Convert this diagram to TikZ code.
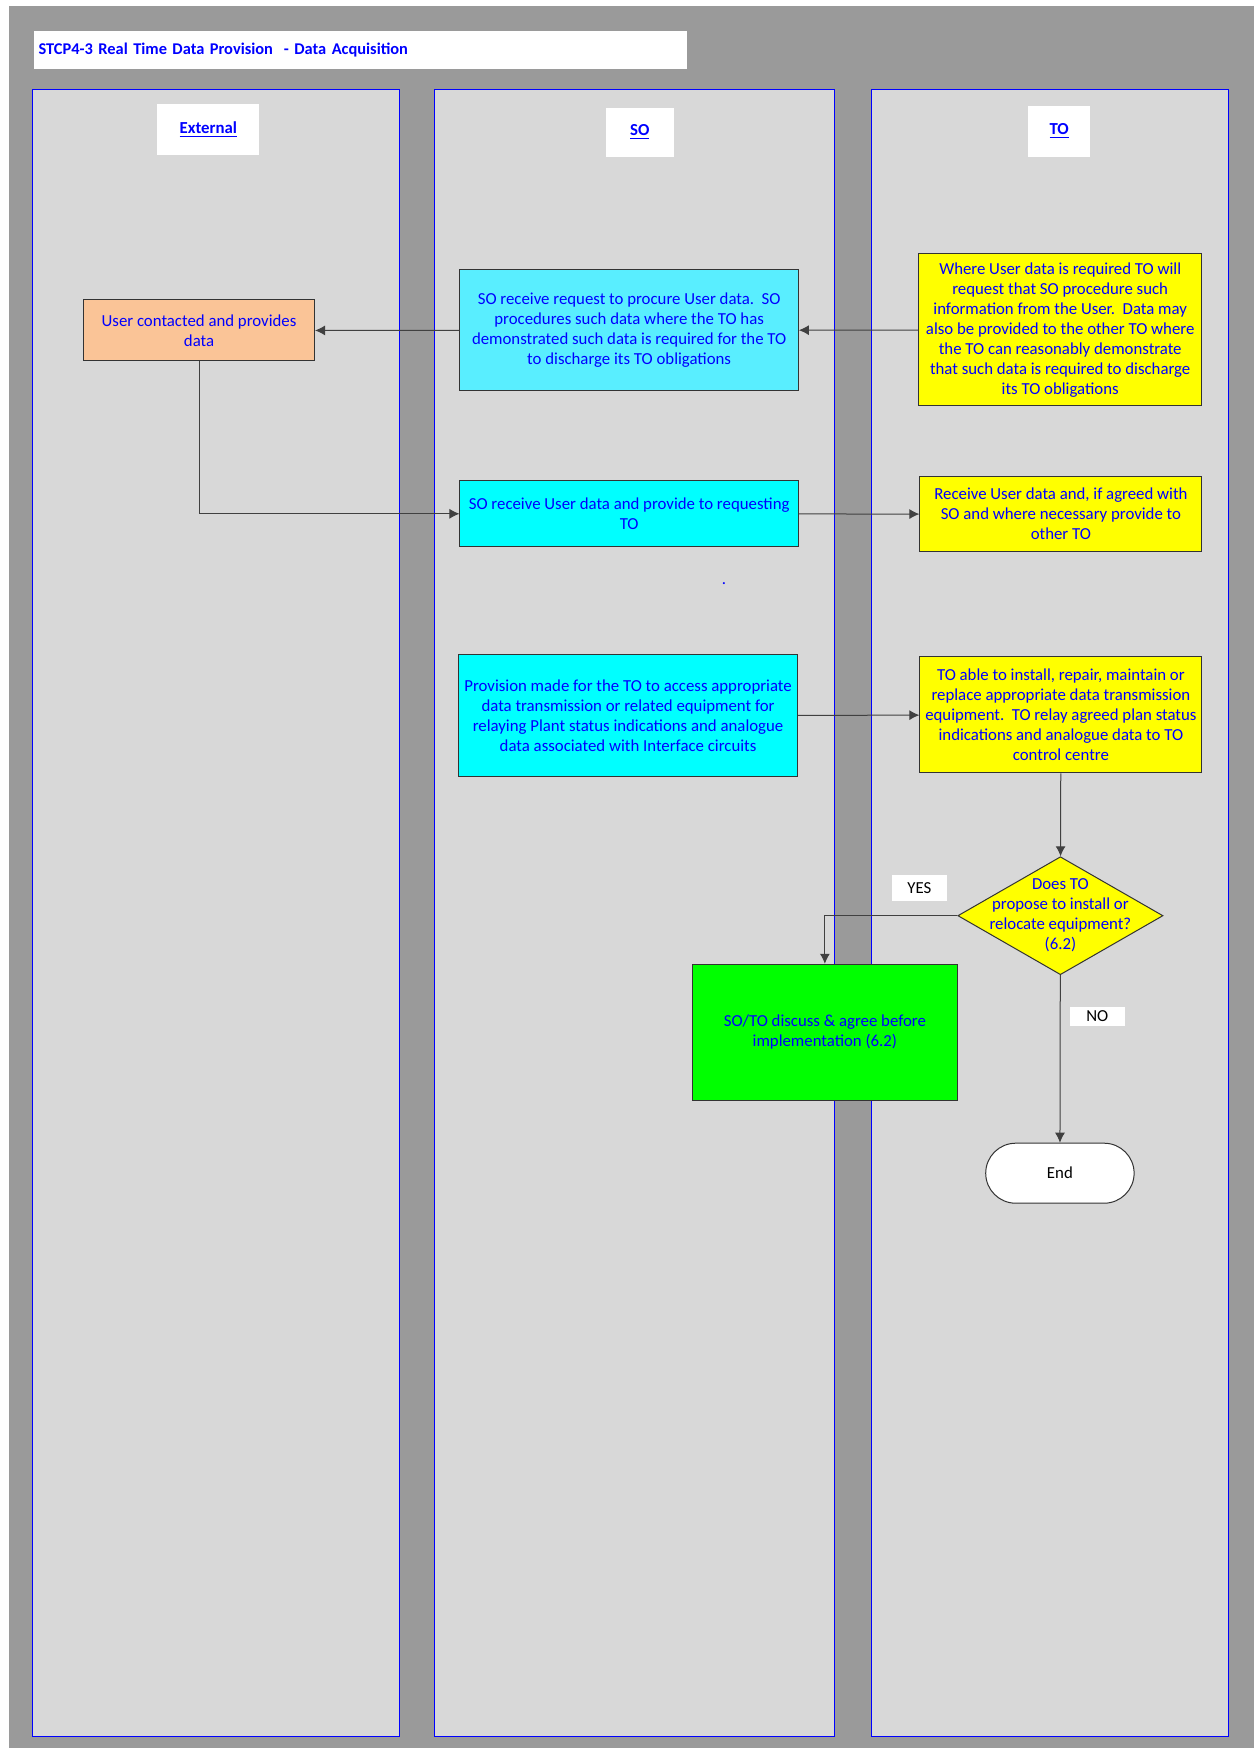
\documentclass[tikz,border=0pt]{standalone}
\usepackage{fontspec}
\setmainfont{Carlito}
\usetikzlibrary{arrows.meta, shapes.geometric}
\definecolor{bggray}{HTML}{9A9A9A}
\definecolor{lanegray}{HTML}{D8D8D8}
\definecolor{peach}{HTML}{FAC497}
\definecolor{lightcyan}{HTML}{59EEFF}
\definecolor{aqua}{HTML}{00FFFF}
\definecolor{lime}{HTML}{00FF00}
\definecolor{lemon}{HTML}{FFFF00}
\definecolor{txtblue}{HTML}{0000FF}

\begin{document}
\begin{tikzpicture}
  [x=0.4983pt,y=-0.5pt,
   every node/.style={font=\fontsize{8.4}{10}\selectfont,text=txtblue,align=center,inner sep=0pt},
   lane/.style={draw=blue,fill=lanegray,line width=0.4pt},
   head/.style={fill=white,font=\fontsize{8.4}{10}\selectfont\bfseries},
   box/.style={draw=black!80,line width=0.5pt},
   decision/.style={diamond,draw=black!80,fill=lemon,line width=0.5pt},
   tag/.style={fill=white,text=black},
   flow/.style={draw=black!75,line width=0.5pt,-{Latex[length=5pt,width=5pt]}}]

  \useasboundingbox (0,0) rectangle (1258.3,1748);
  \fill[bggray] (9,6) rectangle (1258.3,1748);
  \draw[lane] (32.5,89) rectangle (400.5,1736);
  \draw[lane] (436,89) rectangle (837.5,1736);
  \draw[lane] (874,89) rectangle (1233,1736);

  \node[fill=white,anchor=west,text width=322pt,minimum height=19pt,inner xsep=2.4pt,
        align=left,font=\fontsize{8.2}{10}\selectfont\bfseries] (title) at (33.5,50)
        {STCP4-3 Real Time Data Provision \ - Data Acquisition};

  \node[head,minimum width=51pt,minimum height=25.5pt] (ext) at (209,129.5) {\underline{External}};
  \node[head,minimum width=34pt,minimum height=24.5pt] (so) at (642,132.5) {\underline{SO}};
  \node[head,minimum width=31.2pt,minimum height=25.35pt] (to) at (1062.75,131.3)
    {\raisebox{2.5pt}{\underline{TO}}};

  \node[box,fill=peach,minimum width=115.5pt,minimum height=30.5pt] (user) at (199.7,330.5)
    {User contacted and provides\\data};
  \node[box,fill=lightcyan,minimum width=169.2pt,minimum height=60.35pt] (req) at (631.3,330.3)
    {SO receive request to procure User data.\ \ SO\\procedures such data where the TO has\\
     demonstrated such data is required for the TO\\to discharge its TO obligations};
  \node[box,fill=lemon,minimum width=141.7pt,minimum height=76pt] (need) at (1063.8,330)
    {Where User data is required TO will\\request that SO procedure such\\
     information from the User.\ \ Data may\\also be provided to the other TO where\\
     the TO can reasonably demonstrate\\that such data is required to discharge\\its TO obligations};
  \node[box,fill=aqua,minimum width=169.2pt,minimum height=32.85pt] (pass) at (631.3,513.8)
    {SO receive User data and provide to requesting\\TO};
  \node[box,fill=lemon,minimum width=141pt,minimum height=37.5pt] (recv) at (1064.5,514.2)
    {Receive User data and, if agreed with\\SO and where necessary provide to\\other TO};
  \node[anchor=base] (dot) at (726.5,584) {.};
  \node[box,fill=aqua,minimum width=169.6pt,minimum height=60.85pt] (prov) at (630.2,715.8)
    {Provision made for the TO to access appropriate\\data transmission or related equipment for\\
     relaying Plant status indications and analogue\\data associated with Interface circuits};
  \node[box,fill=lemon,minimum width=141pt,minimum height=58.15pt] (inst) at (1064.5,714.8)
    {TO able to install, repair, maintain or\\replace appropriate data transmission\\
     equipment.\ \ TO relay agreed plan status\\indications and analogue data to TO\\control centre};
  \node[decision,minimum width=102.6pt,minimum height=59pt] (dec) at (1064,915.7) {};
  \node (dectxt) at (dec) {Does TO\\propose to install or\\relocate equipment?\\(6.2)};
  \node[box,fill=lime,minimum width=132.2pt,minimum height=68pt] (agree) at (827.65,1032.3)
    {SO/TO discuss \& agree before\\implementation (6.2)};
  \node[box,fill=white,text=black,rounded corners=15pt,minimum width=74.2pt,minimum height=30pt]
    (fin) at (1063.5,1173.2) {End};
  \node[tag,minimum width=27.4pt,minimum height=12.85pt] (yes) at (922.5,887.9) {YES};
  \node[tag,minimum width=27.4pt,minimum height=9.35pt] (no) at (1101,1016.4) {NO};

  \foreach \from/\to in {need/req,req/user,pass/recv,prov/inst,inst/dec,dec/fin}
    \draw[flow] (\from) -- (\to);
  \draw[flow] (user) |- (pass);
  \draw[flow] (dec) -| (agree);

\end{tikzpicture}
\end{document}
